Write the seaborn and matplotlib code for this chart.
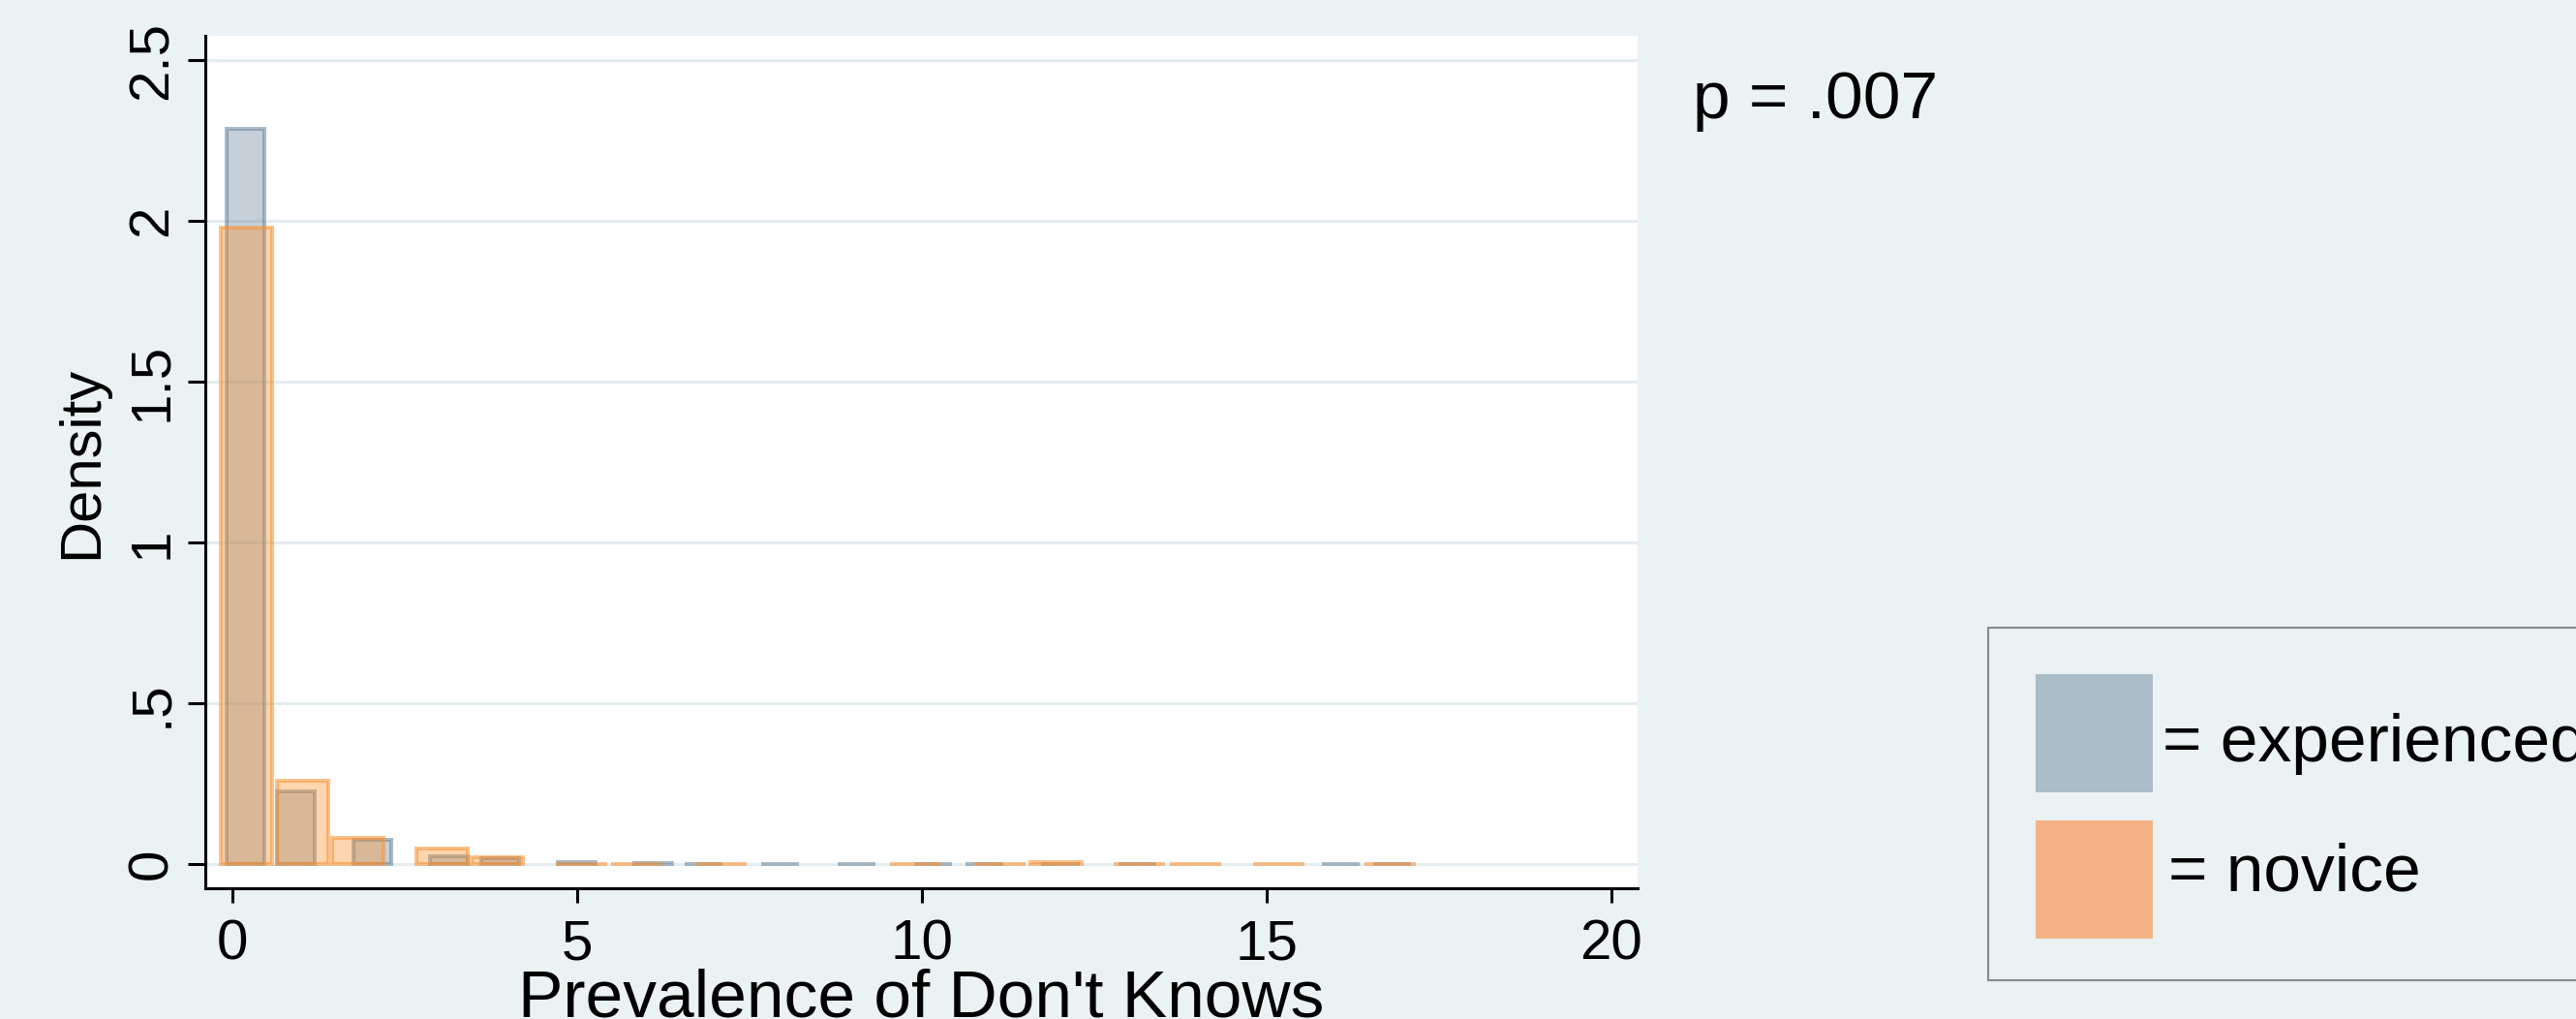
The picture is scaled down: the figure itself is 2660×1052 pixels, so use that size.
import numpy as np
import matplotlib
matplotlib.use("Agg")
import matplotlib.pyplot as plt
from matplotlib.patches import Rectangle
import seaborn as sns

# Histogram bars: centre of each bar and its density, per group
experienced_x = [0.19, 0.92, 2.03, 3.14, 3.88, 4.99, 6.10, 6.83, 7.94, 9.05,
                 10.16, 10.91, 12.01, 13.13, 16.07, 16.82]
experienced_density = [2.287, 0.227, 0.076, 0.025, 0.020, 0.007, 0.003, 0.001,
                       0.002, 0.002, 0.001, 0.002, 0.002, 0.001, 0.001, 0.001]

novice_x = [0.20, 1.02, 1.82, 3.04, 3.84, 5.06, 5.86, 7.09, 9.91, 11.13,
            11.94, 13.15, 13.97, 15.18, 16.79]
novice_density = [1.980, 0.259, 0.081, 0.049, 0.022, 0.002, 0.001, 0.002,
                  0.002, 0.001, 0.007, 0.001, 0.001, 0.001, 0.001]

experienced_bar_width = 0.55
novice_bar_width = 0.745

x_ticks = [0, 5, 10, 15, 20]
x_tick_labels = ["0", "5", "10", "15", "20"]
y_ticks = [0, 0.5, 1, 1.5, 2, 2.5]
y_tick_labels = ["0", ".5", "1", "1.5", "2", "2.5"]

x_title = "Prevalence of Don't Knows"
y_title = "Density"
p_label = "p = .007"
legend_labels = ["= experienced", "= novice"]

# Styling
W, H, DPI = 2660, 1052, 100
BG = "#eaf2f3"
GRID = "#e3ecef"
BLUE = (103 / 255, 132 / 255, 155 / 255)
ORANGE = (250 / 255, 145 / 255, 47 / 255)
BLUE_SWATCH = "#abbdc8"
ORANGE_SWATCH = "#f4b285"

sns.set_theme(style="white")
plt.rcParams["font.family"] = ["Liberation Sans", "DejaVu Sans"]

fig = plt.figure(figsize=(W / DPI, H / DPI), dpi=DPI, facecolor=BG)
ax = fig.add_axes([212 / W, 1 - 917 / H, (1691 - 212) / W, (917 - 37) / H])
ax.set_facecolor("white")


def bar_edges(centers, width):
    c = np.asarray(centers, dtype=float)
    e = np.concatenate([c - width / 2, c + width / 2])
    return np.unique(np.round(e, 6)).tolist()


def draw_hist(centers, density, width, rgb):
    sns.histplot(x=centers, weights=density, bins=bar_edges(centers, width),
                 stat="count", element="bars", fill=True,
                 facecolor=(*rgb, 0.38), edgecolor=(*rgb, 0.55),
                 linewidth=2.9, ax=ax, zorder=3)
    # drop the empty bins that only fill the gaps between bars
    for bar in list(ax.containers[-1]):
        if bar.get_height() <= 0:
            bar.remove()


draw_hist(experienced_x, experienced_density, experienced_bar_width, BLUE)
draw_hist(novice_x, novice_density, novice_bar_width, ORANGE)

ax.set_xlim(-0.393, 20.38)
ax.set_ylim(-0.0744, 2.576)

ax.set_xticks(x_ticks, labels=x_tick_labels, fontsize=42)
ax.set_yticks(y_ticks, labels=y_tick_labels, fontsize=42, rotation=90, va="center")
ax.tick_params(axis="x", bottom=True, length=11, width=2.2, pad=12,
               color="black", labelcolor="black")
ax.tick_params(axis="y", left=True, length=13, width=2.2, pad=7,
               color="black", labelcolor="black")

for side in ("top", "right"):
    ax.spines[side].set_visible(False)
for side in ("left", "bottom"):
    ax.spines[side].set_color("black")
    ax.spines[side].set_linewidth(2.2)

ax.set_axisbelow(True)
ax.yaxis.grid(True, color=GRID, linewidth=2.2)
ax.xaxis.grid(False)

ax.set_xlabel(x_title, fontsize=50, color="black")
ax.xaxis.set_label_coords(0.5, (917 - 1049) / 880)
ax.xaxis.label.set_va("baseline")
ax.set_ylabel(y_title, fontsize=43, color="black")
ax.yaxis.set_label_coords((100 - 212) / 1479, 0.5)
ax.yaxis.label.set_va("baseline")

fig.text(1748 / W, 1 - 122 / H, p_label, fontsize=50, va="baseline", color="black")

# Legend box with colour keys
fig.add_artist(Rectangle((2053 / W, 1 - 1012 / H), (2720 - 2053) / W, (1012 - 648) / H,
                         transform=fig.transFigure, facecolor=BG,
                         edgecolor="#8a8a8a", linewidth=1.5))
fig.add_artist(Rectangle((2102 / W, 1 - 818 / H), 121 / W, 122 / H,
                         transform=fig.transFigure, facecolor=BLUE_SWATCH,
                         edgecolor="none"))
fig.add_artist(Rectangle((2102 / W, 1 - 969 / H), 121 / W, 122 / H,
                         transform=fig.transFigure, facecolor=ORANGE_SWATCH,
                         edgecolor="none"))
fig.text(2233 / W, 1 - 786 / H, legend_labels[0], fontsize=50, va="baseline", color="black")
fig.text(2239 / W, 1 - 920 / H, legend_labels[1], fontsize=50, va="baseline", color="black")

fig.savefig("out.png", dpi=DPI, facecolor=BG)
